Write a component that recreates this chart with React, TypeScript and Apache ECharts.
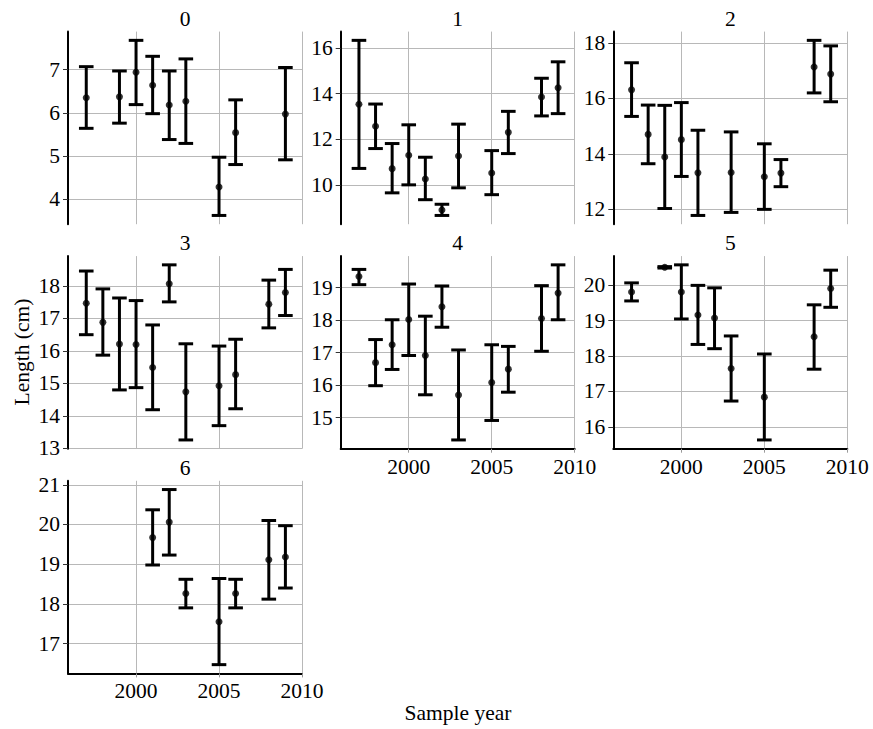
import React, { useEffect, useRef } from "react";
import * as echarts from "echarts";

// ---- Data ----
const p0Years = [1997, 1999, 2000, 2001, 2002, 2003, 2005, 2006, 2009];
const p0Mean = [6.35, 6.37, 6.94, 6.64, 6.18, 6.27, 4.28, 5.54, 5.97];
const p0Lower = [5.64, 5.76, 6.19, 5.98, 5.38, 5.29, 3.62, 4.8, 4.91];
const p0Upper = [7.07, 6.97, 7.68, 7.31, 6.97, 7.25, 4.97, 6.3, 7.05];

const p1Years = [1997, 1998, 1999, 2000, 2001, 2002, 2003, 2005, 2006, 2008, 2009];
const p1Mean = [13.53, 12.57, 10.71, 11.3, 10.26, 8.9, 11.26, 10.52, 12.3, 13.85, 14.25];
const p1Lower = [10.72, 11.59, 9.65, 10.0, 9.35, 8.66, 9.87, 9.57, 11.37, 13.02, 13.12];
const p1Upper = [16.33, 13.54, 11.81, 12.63, 11.21, 9.15, 12.66, 11.5, 13.22, 14.67, 15.39];

const p2Years = [1997, 1998, 1999, 2000, 2001, 2003, 2005, 2006, 2008, 2009];
const p2Mean = [16.31, 14.7, 13.88, 14.51, 13.31, 13.32, 13.17, 13.3, 17.14, 16.88];
const p2Lower = [15.35, 13.64, 12.02, 13.18, 11.77, 11.88, 11.99, 12.81, 16.2, 15.88];
const p2Upper = [17.29, 15.76, 15.75, 15.85, 14.85, 14.79, 14.36, 13.79, 18.1, 17.9];

const p3Years = [1997, 1998, 1999, 2000, 2001, 2002, 2003, 2005, 2006, 2008, 2009];
const p3Mean = [17.47, 16.88, 16.21, 16.2, 15.49, 18.07, 14.74, 14.93, 15.27, 17.44, 17.8];
const p3Lower = [16.5, 15.87, 14.8, 14.87, 14.19, 17.51, 13.26, 13.7, 14.22, 16.71, 17.09];
const p3Upper = [18.46, 17.91, 17.63, 17.55, 16.8, 18.65, 16.22, 16.15, 16.36, 18.18, 18.51];

const p4Years = [1997, 1998, 1999, 2000, 2001, 2002, 2003, 2005, 2006, 2008, 2009];
const p4Mean = [19.34, 16.69, 17.24, 18.02, 16.91, 18.41, 15.69, 16.08, 16.49, 18.05, 18.83];
const p4Lower = [19.09, 15.98, 16.48, 16.91, 15.7, 17.78, 14.31, 14.91, 15.78, 17.04, 18.01];
const p4Upper = [19.56, 17.4, 18.01, 19.11, 18.12, 19.05, 17.08, 17.24, 17.19, 19.06, 19.7];

const p5Years = [1997, 1999, 2000, 2001, 2002, 2003, 2005, 2008, 2009];
const p5Mean = [19.81, 20.51, 19.81, 19.16, 19.08, 17.65, 16.84, 18.55, 19.91];
const p5Lower = [19.56, 20.49, 19.05, 18.33, 18.21, 16.73, 15.63, 17.63, 19.38];
const p5Upper = [20.07, 20.53, 20.58, 20.0, 19.93, 18.57, 18.06, 19.45, 20.43];

const p6Years = [2001, 2002, 2003, 2005, 2006, 2008, 2009];
const p6Mean = [19.67, 20.06, 18.26, 17.55, 18.26, 19.11, 19.18];
const p6Lower = [18.98, 19.23, 17.9, 16.47, 17.9, 18.12, 18.4];
const p6Upper = [20.37, 20.88, 18.62, 18.64, 18.62, 20.1, 19.97];

const panelTitles = ["0", "1", "2", "3", "4", "5", "6"];
const yTicks = [
  [4, 5, 6, 7],
  [10, 12, 14, 16],
  [12, 14, 16, 18],
  [13, 14, 15, 16, 17, 18],
  [15, 16, 17, 18, 19],
  [16, 17, 18, 19, 20],
  [17, 18, 19, 20, 21],
];
const xTicks = [2000, 2005, 2010];
const xLabel = "Sample year";
const yLabel = "Length (cm)";

const panels = [
  [p0Years, p0Mean, p0Lower, p0Upper],
  [p1Years, p1Mean, p1Lower, p1Upper],
  [p2Years, p2Mean, p2Lower, p2Upper],
  [p3Years, p3Mean, p3Lower, p3Upper],
  [p4Years, p4Mean, p4Lower, p4Upper],
  [p5Years, p5Mean, p5Lower, p5Upper],
  [p6Years, p6Mean, p6Lower, p6Upper],
];

// ---- Layout ----
const FONT = "Liberation Serif, DejaVu Serif, Times New Roman, serif";
const FS = 21.5;
const COL_LEFT = [68, 340.7, 613.3];
const ROW_TOP = [31.6, 256.1, 480.8];
const GRID_W = 234;
const GRID_H = 192.6;
const X_MIN = 1995.9;
const X_MAX = 2010;
const withXAxis = [false, false, false, false, true, true, true];

export default function App() {
  const ref = useRef<HTMLDivElement>(null);

  useEffect(() => {
    if (!ref.current) return;
    const chart = echarts.init(ref.current, null, { renderer: "svg" });

    const grids: any[] = [];
    const xAxes: any[] = [];
    const yAxes: any[] = [];
    const series: any[] = [];
    const graphics: any[] = [];

    panels.forEach((p, i) => {
      const [years, mean, lower, upper] = p as number[][];
      const col = i % 3;
      const row = Math.floor(i / 3);
      const left = COL_LEFT[col];
      const top = ROW_TOP[row];
      grids.push({ left, top, width: GRID_W, height: GRID_H, containLabel: false });

      const lo = Math.min(...lower);
      const hi = Math.max(...upper);
      const pad = (hi - lo) * 0.05;

      xAxes.push({
        gridIndex: i,
        type: "value",
        min: X_MIN,
        max: X_MAX,
        axisLine: { show: withXAxis[i], onZero: false, lineStyle: { color: "#000", width: 2 } },
        axisTick: {
          show: withXAxis[i],
          customValues: xTicks,
          length: 4,
          lineStyle: { color: "#999", width: 1 },
        },
        axisLabel: {
          show: withXAxis[i],
          customValues: xTicks,
          formatter: (v: number) => String(v),
          fontFamily: FONT,
          fontSize: FS,
          color: "#000",
          margin: 7,
        },
        splitLine: { show: true, lineStyle: { color: "#b8b8b8", width: 1 } },
      });

      yAxes.push({
        gridIndex: i,
        type: "value",
        min: lo - pad,
        max: hi + pad,
        axisLine: { show: true, onZero: false, lineStyle: { color: "#000", width: 2 } },
        axisTick: {
          show: true,
          customValues: yTicks[i],
          length: 5,
          lineStyle: { color: "#333", width: 1 },
        },
        axisLabel: {
          show: true,
          customValues: yTicks[i],
          formatter: (v: number) => String(v),
          fontFamily: FONT,
          fontSize: FS,
          color: "#000",
          margin: 8,
        },
        splitLine: { show: true, lineStyle: { color: "#b8b8b8", width: 1 } },
      });

      const data = years.map((y, k) => [y, mean[k], lower[k], upper[k]]);

      series.push({
        type: "custom",
        xAxisIndex: i,
        yAxisIndex: i,
        data,
        encode: { x: 0, y: [1, 2, 3] },
        renderItem: (params: any, api: any) => {
          const x = api.value(0);
          const topPt = api.coord([x, api.value(3)]);
          const botPt = api.coord([x, api.value(2)]);
          const hw = 7.3;
          const st = { stroke: "#000", lineWidth: 3 };
          return {
            type: "group",
            children: [
              { type: "line", shape: { x1: topPt[0], y1: topPt[1], x2: botPt[0], y2: botPt[1] }, style: st },
              { type: "line", shape: { x1: topPt[0] - hw, y1: topPt[1], x2: topPt[0] + hw, y2: topPt[1] }, style: st },
              { type: "line", shape: { x1: botPt[0] - hw, y1: botPt[1], x2: botPt[0] + hw, y2: botPt[1] }, style: st },
            ],
          };
        },
        z: 3,
      });

      series.push({
        type: "scatter",
        xAxisIndex: i,
        yAxisIndex: i,
        data: years.map((y, k) => [y, mean[k]]),
        symbol: "circle",
        symbolSize: 7,
        itemStyle: { color: "#000" },
        z: 4,
      });

      graphics.push({
        type: "text",
        x: left + GRID_W / 2,
        y: top - 13,
        style: {
          text: panelTitles[i],
          font: `${FS}px ${FONT}`,
          fill: "#000",
          textAlign: "center",
          textVerticalAlign: "middle",
        },
      });
    });

    graphics.push({
      type: "text",
      x: 458,
      y: 713,
      style: {
        text: xLabel,
        font: `${FS}px ${FONT}`,
        fill: "#000",
        textAlign: "center",
        textVerticalAlign: "middle",
      },
    });
    graphics.push({
      type: "text",
      x: 22,
      y: 352,
      rotation: Math.PI / 2,
      style: {
        text: yLabel,
        font: `${FS}px ${FONT}`,
        fill: "#000",
        textAlign: "center",
        textVerticalAlign: "middle",
      },
    });

    chart.setOption({
      animation: false,
      backgroundColor: "#fff",
      textStyle: { fontFamily: FONT },
      grid: grids,
      xAxis: xAxes,
      yAxis: yAxes,
      series,
      graphic: graphics,
    });

    return () => chart.dispose();
  }, []);

  return (
    <div
      ref={ref}
      style={{ position: "absolute", left: 0, top: 0, width: 873, height: 729 }}
    />
  );
}
